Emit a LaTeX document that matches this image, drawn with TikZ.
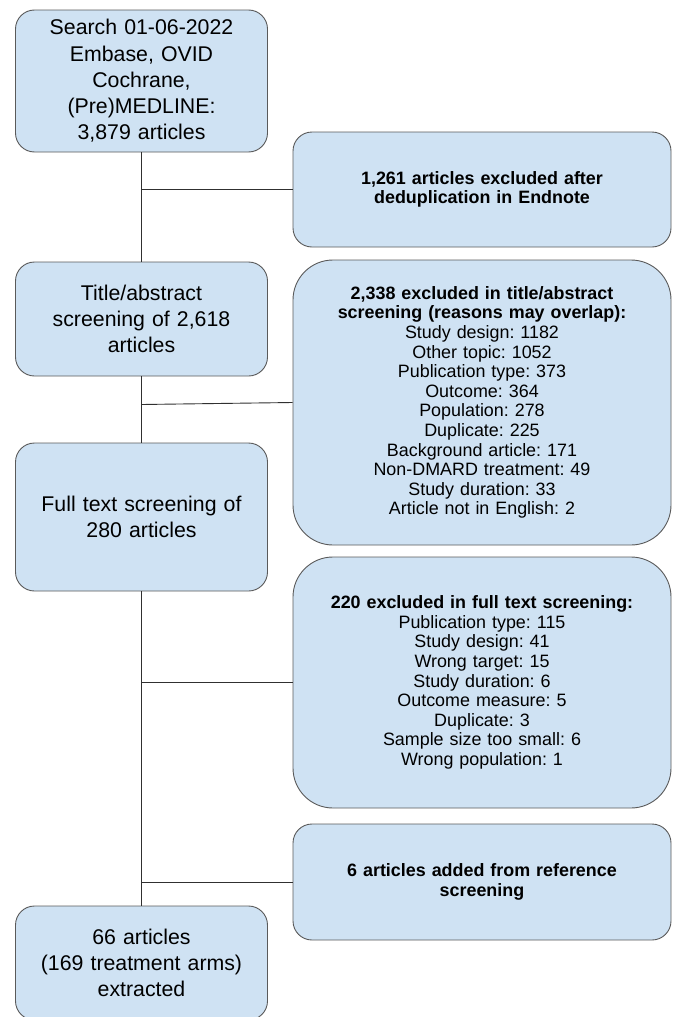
\documentclass[tikz,border=0pt]{standalone}
\usepackage{fontspec}
\setmainfont{Liberation Sans}
\frenchspacing
\definecolor{boxfill}{HTML}{CFE2F3}
\definecolor{boxline}{HTML}{5A5A5A}
\definecolor{conn}{HTML}{303030}
\begin{document}
\begin{tikzpicture}[x=1pt,y=-1pt,
  leftbox/.style={draw=boxline, fill=boxfill, line width=0.9pt, rounded corners=19pt,
    minimum width=252pt, text width=240pt, align=center, inner sep=0pt,
    font=\fontsize{21.3}{26.3}\selectfont\frenchspacing},
  rightbox/.style={draw=boxline, fill=boxfill, line width=0.9pt, rounded corners=19pt,
    minimum width=378pt, text width=370pt, align=center, inner sep=0pt,
    font=\fontsize{17.9}{19.6}\selectfont\frenchspacing},
  bigcorner/.style={rounded corners=40pt},
  link/.style={draw=conn, line width=0.9pt}]
\useasboundingbox (0,0) rectangle (676,1017);
\clip (0,0) rectangle (676,1017);
% left column
\node[leftbox, minimum height=142pt] (b1) at (141.5,81) {Search 01-06-2022\\Embase, OVID\\Cochrane,\\(Pre)MEDLINE:\\3,879 articles};
\node[leftbox, minimum height=114pt] (b3) at (141.5,319) {Title/abstract\\screening of 2,618\\articles};
\node[leftbox, minimum height=148pt] (b5) at (141.5,517) {Full text screening of\\280 articles};
\node[leftbox, minimum height=114pt] (b8) at (141.5,963) {66 articles\\(169 treatment arms)\\extracted};
% right column
\node[rightbox, minimum height=115pt] (b2) at (482,189.5) {\textbf{1,261 articles excluded after}\\\textbf{deduplication in Endnote}};
\node[rightbox, bigcorner, minimum height=285pt] (b4) at (482,402.5) {\textbf{2,338 excluded in title/abstract}\\\textbf{screening (reasons may overlap):}\\Study design: 1182\\Other topic: 1052\\Publication type: 373\\Outcome: 364\\Population: 278\\Duplicate: 225\\Background article: 171\\Non-DMARD treatment: 49\\Study duration: 33\\Article not in English: 2};
\node[rightbox, bigcorner, minimum height=251pt] (b6) at (482,682.5) {\textbf{220 excluded in full text screening:}\\Publication type: 115\\Study design: 41\\Wrong target: 15\\Study duration: 6\\Outcome measure: 5\\Duplicate: 3\\Sample size too small: 6\\Wrong population: 1};
\node[rightbox, minimum height=116pt] (b7) at (482,882) {\textbf{6 articles added from reference}\\\textbf{screening}};
% trunk and branches
\coordinate (j1) at (141.5,189.5);
\coordinate (j2) at (141.5,404.5);
\coordinate (j3) at (141.5,682.5);
\coordinate (j4) at (141.5,882);
\draw[link] (b1.south) -- (b3.north);
\draw[link] (b3.south) -- (b5.north);
\draw[link] (b5.south) -- (b8.north);
\draw[link] (j1) -- (j1 -| b2.west);
\draw[link] (j2) -- (b4.west);
\draw[link] (j3) -- (j3 -| b6.west);
\draw[link] (j4) -- (j4 -| b7.west);
\end{tikzpicture}
\end{document}
